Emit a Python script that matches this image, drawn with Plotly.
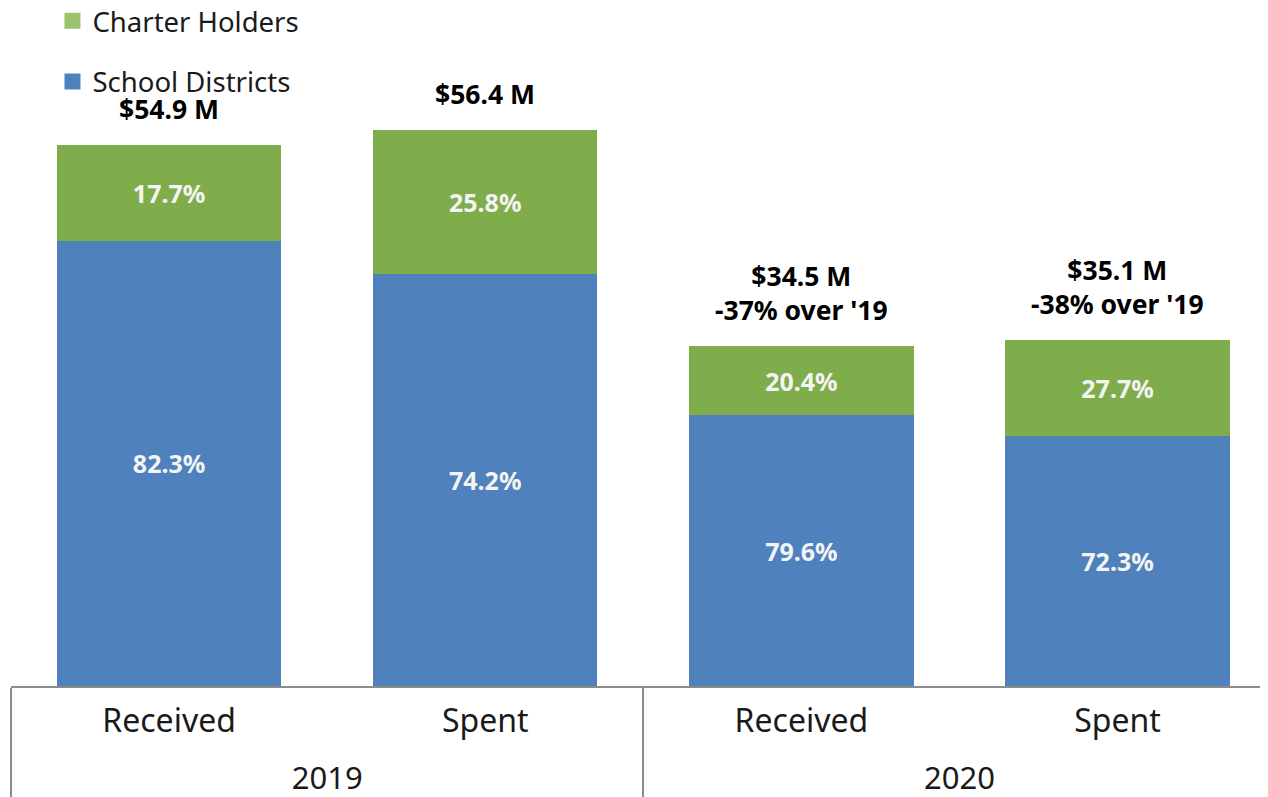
import plotly.graph_objects as go

years = ["2019", "2019", "2020", "2020"]
kinds = ["Received", "Spent", "Received", "Spent"]
totals = [54.9, 56.4, 34.5, 35.1]
district_pct = [82.3, 74.2, 79.6, 72.3]
charter_pct = [17.7, 25.8, 20.4, 27.7]
total_labels = ["$54.9 M", "$56.4 M", "$34.5 M<br>-37% over '19", "$35.1 M<br>-38% over '19"]

district_vals = [t * p / 100 for t, p in zip(totals, district_pct)]
charter_vals = [t * p / 100 for t, p in zip(totals, charter_pct)]

# positions on the category index axis
idx = list(range(len(kinds)))
group_names = []
for y in years:
    if y not in group_names:
        group_names.append(y)
group_centers = [sum(i for i, y in zip(idx, years) if y == g) / years.count(g) for g in group_names]
group_starts = [min(i for i, y in zip(idx, years) if y == g) - 0.5 for g in group_names]

BLUE = "#4F81BD"
GREEN = "#7FAD4C"
LEG_GREEN = "#9BC46E"
LEG_BLUE = "#4F81BD"
FONT = "Noto Sans"
GRID = "#8C8C8C"

fig = go.Figure()
fig.add_trace(go.Bar(
    x=idx, y=district_vals, name="School Districts",
    marker=dict(color=BLUE, line=dict(width=0)),
    text=[f"{p:.1f}%" for p in district_pct], textposition="inside",
    insidetextanchor="middle", textangle=0,
    textfont=dict(family=FONT, size=25, color="#F4F4F4", weight="bold"),
    showlegend=False, hoverinfo="skip"))
fig.add_trace(go.Bar(
    x=idx, y=charter_vals, name="Charter Holders",
    marker=dict(color=GREEN, line=dict(width=0)),
    text=[f"{p:.1f}%" for p in charter_pct], textposition="inside",
    insidetextanchor="middle", textangle=0,
    textfont=dict(family=FONT, size=25, color="#F4F4F4", weight="bold"),
    showlegend=False, hoverinfo="skip"))

# legend entries
fig.add_trace(go.Scatter(x=idx, y=[None] * 4, mode="markers",
                         marker=dict(symbol="square", size=16, color=LEG_BLUE),
                         name="School Districts", legendrank=2, legendgroup="b"))
fig.add_trace(go.Scatter(x=idx, y=[None] * 4, mode="markers",
                         marker=dict(symbol="square", size=16, color=LEG_GREEN),
                         name="Charter Holders", legendrank=1, legendgroup="a"))

# invisible trace on the year axis so it is drawn
fig.add_trace(go.Scatter(x=group_centers, y=[None] * len(group_centers),
                         xaxis="x2", mode="markers", showlegend=False,
                         hoverinfo="skip"))

for i, t, lab in zip(idx, totals, total_labels):
    fig.add_annotation(x=i, y=t, xref="x", yref="y", text=f"<b>{lab}</b>",
                       showarrow=False, yanchor="bottom", yshift=16,
                       font=dict(family=FONT, size=26.5, color="black"))

XR = [-0.5, 3.476]
fig.update_layout(
    width=1260, height=789,
    barmode="stack", bargap=0.29,
    margin=dict(l=3, r=0, t=0, b=111, autoexpand=False),
    plot_bgcolor="white", paper_bgcolor="white",
    legend=dict(x=0.033, y=1.017, xanchor="left", yanchor="top",
                font=dict(family=FONT, size=27.5, color="#1a1a1a"),
                traceorder="grouped", tracegroupgap=22, itemsizing="trace",
                bgcolor="rgba(0,0,0,0)"),
    xaxis=dict(type="linear", range=XR, tickmode="array", tickvals=idx,
               ticktext=kinds, showline=True, linecolor=GRID, linewidth=1.5,
               tickfont=dict(family=FONT, size=32, color="#1a1a1a"),
               ticklabelstandoff=6, ticks="", showgrid=False, zeroline=False,
               automargin=False,
               minor=dict(tickmode="array", tickvals=group_starts, ticks="outside",
                          ticklen=115, tickwidth=1.5, tickcolor=GRID, showgrid=False)),
    xaxis2=dict(type="linear", range=XR, overlaying="x", anchor="y", side="bottom",
                tickmode="array", tickvals=group_centers, ticktext=group_names,
                tickfont=dict(family=FONT, size=31, color="#1a1a1a"),
                ticklabelstandoff=71, ticks="", showgrid=False, zeroline=False,
                showline=False, automargin=False),
    yaxis=dict(range=[0, 68.8], visible=False, showgrid=False),
)

fig.write_html("out.html")
